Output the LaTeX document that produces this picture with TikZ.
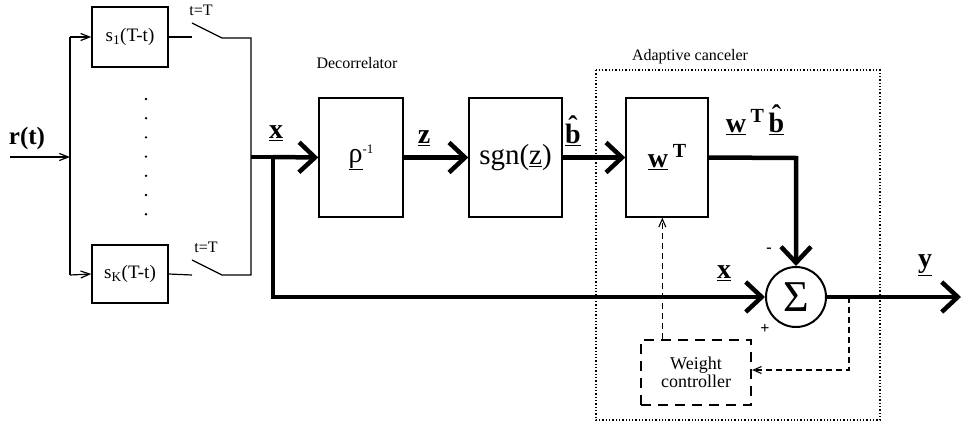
\documentclass[tikz,border=0pt]{standalone}
\usepackage{fontspec}
\setmainfont{Liberation Serif}
\usetikzlibrary{arrows.meta}
% b with a circumflex set clear above it
\newcommand{\bhatsym}{\leavevmode\setbox0\hbox{b}\rlap{\hbox to \wd0{\hss\raisebox{0.3em}{\char"02C6}\hss}}b}
\begin{document}
\begin{tikzpicture}[x=1pt,y=-1pt,
  blockbox/.style={draw, line width=1.4pt, inner sep=0pt},
  thinline/.style={line width=1.2pt},
  busline/.style={line width=4.5pt},
  thinarrow/.style={-{Straight Barb[length=9pt,width=7pt,line width=1.2pt]}},
  bigarrow/.style={-{Straight Barb[length=16pt,width=30pt,line width=4.5pt]}},
  dasharrow/.style={line width=1.1pt, dash pattern=on 6pt off 4pt,
    -{Straight Barb[length=8pt,width=7pt,line width=1.1pt]}},
  biglabel/.style={font=\fontsize{28}{28}\selectfont\bfseries, inner sep=0pt},
  smalllabel/.style={font=\fontsize{16}{16}\selectfont, inner sep=0pt},
]
\useasboundingbox (0,0) rectangle (963,428);

% matched filter bank
\node[blockbox, minimum width=76pt, minimum height=60pt,
  font=\fontsize{19}{19}\selectfont] (s1) at (130,37) {s\textsubscript{1}(T-t)};
\node[blockbox, minimum width=76pt, minimum height=58pt,
  font=\fontsize{19}{19}\selectfont] (sK) at (130,274) {s\textsubscript{K}(T-t)};

\coordinate (rin) at (10,157);
\coordinate (rjoin) at (70,157);
\coordinate (btop) at (70,37);
\coordinate (bbot) at (70,275);
\node[font=\fontsize{25}{25}\selectfont\bfseries, inner sep=0pt] (rlbl) at (27,138) {r(t)};

\draw[thinline, thinarrow] (rin) -- (rjoin);
\draw[thinline] (btop) -- (bbot);
\draw[thinline, thinarrow] (btop) -- (s1.west);
\draw[thinline, thinarrow] (bbot) -- (sK.west);

% sampling switches
\coordinate (sw1a) at (192,37);
\coordinate (sw1b) at (192,23);
\coordinate (sw1c) at (222,38);
\coordinate (sw1d) at (251,38);
\coordinate (swKa) at (192,275);
\coordinate (swKb) at (192,260);
\coordinate (swKc) at (222,275);
\coordinate (swKd) at (251,275);
\draw[thinline] (s1.east) -- (sw1a);
\draw[thinline] (sw1b) -- (sw1c) -- (sw1d) -- (swKd) -- (swKc) -- (swKb);
\draw[thinline] (sK.east) -- (swKa);
\node[smalllabel] (t1) at (201,10) {t=T};
\node[smalllabel] (tK) at (206,247) {t=T};

% dots between the filters
\foreach \k in {0,...,6} {
  \fill (146,{99+19.2*\k}) circle (1.3pt);
}

% decorrelator and decision
\node[blockbox, minimum width=84pt, minimum height=119pt,
  font=\fontsize{28}{28}\selectfont] (rho) at (361,157.5)
  {\underline{ρ}\raisebox{9pt}{\fontsize{13}{13}\selectfont -1}};
\node[blockbox, minimum width=93pt, minimum height=119pt,
  font=\fontsize{29}{29}\selectfont] (sgn) at (515.5,157.5)
  {sgn(\underline{z})};
\node[smalllabel] (declbl) at (357,63) {Decorrelator};

% adaptive canceler
\draw[line width=1.3pt, dotted] (596,70) rectangle (880,420);
\node[smalllabel] (adlbl) at (690,57) {Adaptive canceler};
\node[blockbox, minimum width=82pt, minimum height=119pt,
  font=\fontsize{28}{28}\selectfont\bfseries] (w) at (667,157.5)
  {\underline{w}\,\raisebox{10pt}{\fontsize{20}{20}\selectfont T}};
\node[draw, circle, line width=2pt, minimum size=60pt, inner sep=0pt,
  font=\fontsize{44}{44}\selectfont] (sum) at (796,297) {Σ};
\node[draw, line width=2.2pt, dash pattern=on 10pt off 7pt,
  minimum width=110pt, minimum height=65pt, align=center,
  font=\fontsize{18}{14}\selectfont] (wc) at (696,372.5) {Weight\\controller};

% main signal path
\coordinate (xsplit) at (273,157);
\coordinate (xdown) at (273,297);
\coordinate (wcorner) at (796,158);
\coordinate (yout) at (961,297);
\draw[busline] (sw1d |- rjoin) -- (xsplit);
\draw[busline, bigarrow] (xsplit) -- (rho.west);
\draw[busline, bigarrow] (xsplit) -- (xdown) -- (sum.west);
\draw[busline, bigarrow] (rho.east) -- (sgn.west);
\draw[busline, bigarrow] (sgn.east) -- (w.west);
\draw[busline, bigarrow] (w.east) -- (wcorner) -- (sum.north);
\draw[busline, bigarrow] (sum.east) -- (yout);

% adaptation loop
\coordinate (etap) at (849,297);
\coordinate (ecorner) at (849,370);
\draw[dasharrow] (wc.north -| w.south west) ++(37,0) coordinate (wcup) -- (wcup |- w.south);
\draw[dasharrow] (etap) -- (ecorner) -- (ecorner -| wc.east);

% signal labels
\node[biglabel] (xlbl) at (276,133) {\underline{x}};
\node[biglabel] (zlbl) at (424,138) {\underline{z}};
\node[biglabel] (blbl) at (573,131) {\underline{\bhatsym}};
\node[biglabel] (wblbl) at (755,120) {\underline{w}\,\raisebox{10pt}{\fontsize{20}{20}\selectfont T}\,\underline{\bhatsym}};
\node[biglabel] (x2lbl) at (724,273) {\underline{x}};
\node[biglabel] (ylbl) at (925,265) {\underline{y}};
\node[font=\fontsize{16}{16}\selectfont\bfseries, inner sep=0pt] (minus) at (769,250) {-};
\node[font=\fontsize{16}{16}\selectfont\bfseries, inner sep=0pt] (plus) at (765,329) {+};
\end{tikzpicture}
\end{document}
